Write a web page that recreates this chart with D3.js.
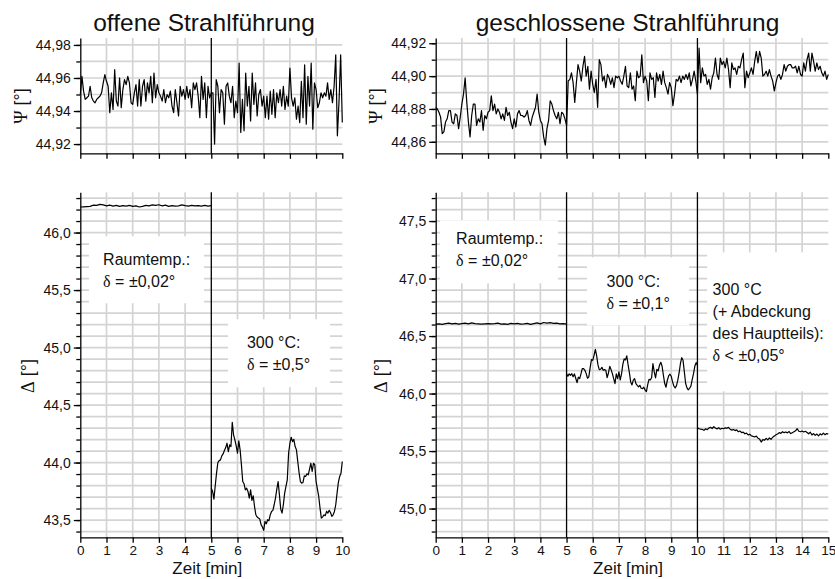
<!DOCTYPE html>
<html>
<head>
<meta charset="utf-8">
<script src="https://cdn.jsdelivr.net/npm/d3@7"></script>
<style>
  html, body { margin: 0; padding: 0; background: #fff; }
  svg { display: block; font-family: "Liberation Sans", Arial, Helvetica, sans-serif; }
</style>
</head>
<body>
<svg id="chart" width="835" height="579"></svg>
<script>
// ---------------- measured data ----------------
// Ψ samples every 1/16 min
const psiStep = 0.0625;

// Ψ, open beam path, 0–10 min
const psiOpen = [
  44.950, 44.961, 44.952, 44.947, 44.948, 44.949, 44.955, 44.948, 44.946, 44.945,
  44.947, 44.948, 44.949, 44.951, 44.957, 44.962, 44.958, 44.955, 44.939, 44.951,
  44.941, 44.965, 44.946, 44.943, 44.960, 44.942, 44.953, 44.959, 44.956, 44.961,
  44.957, 44.945, 44.944, 44.951, 44.956, 44.943, 44.959, 44.943, 44.955, 44.959,
  44.946, 44.957, 44.951, 44.961, 44.945, 44.963, 44.948, 44.956, 44.951, 44.949,
  44.946, 44.953, 44.945, 44.950, 44.948, 44.952, 44.943, 44.939, 44.953, 44.945,
  44.937, 44.955, 44.949, 44.953, 44.947, 44.955, 44.948, 44.953, 44.942, 44.957,
  44.953, 44.957, 44.949, 44.936, 44.961, 44.947, 44.957, 44.936, 44.955, 44.948,
  44.951,
  44.951, 44.920, 44.959, 44.955, 44.939, 44.953, 44.951, 44.932, 44.955,
  44.957, 44.949, 44.945, 44.955, 44.936, 44.946, 44.939, 44.969, 44.927, 44.947,
  44.928, 44.963, 44.943, 44.955, 44.934, 44.963, 44.944, 44.957, 44.937, 44.950,
  44.953, 44.943, 44.949, 44.936, 44.949, 44.935, 44.952, 44.938, 44.953, 44.936,
  44.951, 44.945, 44.953, 44.943, 44.955, 44.941, 44.949, 44.943, 44.966, 44.948,
  44.943, 44.948, 44.935, 44.943, 44.933, 44.958, 44.936, 44.968, 44.932, 44.961,
  44.943, 44.969, 44.929, 44.957, 44.953, 44.942, 44.945, 44.951, 44.948, 44.951,
  44.949, 44.957, 44.947, 44.953, 44.945, 44.955, 44.974, 44.925, 44.946, 44.974,
  44.933
];

// Ψ, closed beam path, 0–15 min
const psiClosed = [
  44.881, 44.880, 44.878, 44.875, 44.865, 44.866, 44.872, 44.874, 44.879, 44.879,
  44.872, 44.871, 44.877, 44.876, 44.868, 44.875, 44.883, 44.889, 44.899, 44.884,
  44.872, 44.863, 44.876, 44.883, 44.883, 44.870, 44.874, 44.872, 44.879, 44.867,
  44.876, 44.874, 44.878, 44.879, 44.888, 44.879, 44.883, 44.877, 44.880, 44.878,
  44.874, 44.877, 44.873, 44.881, 44.876, 44.878, 44.872, 44.868, 44.874, 44.869,
  44.877, 44.879, 44.876, 44.876, 44.875, 44.876, 44.879, 44.873, 44.870, 44.875,
  44.878, 44.881, 44.889, 44.878, 44.873, 44.871, 44.863, 44.858, 44.868, 44.873,
  44.885, 44.883, 44.879, 44.876, 44.874, 44.878, 44.871, 44.878, 44.877, 44.874,
  44.870,
  44.897, 44.898, 44.902, 44.896, 44.884, 44.896, 44.907, 44.903, 44.897, 44.906,
  44.912, 44.900, 44.906, 44.892, 44.903, 44.895, 44.890, 44.898, 44.881, 44.910,
  44.907, 44.897, 44.900, 44.893, 44.901, 44.899, 44.895, 44.899, 44.893, 44.900,
  44.899, 44.900, 44.897, 44.895, 44.900, 44.906, 44.894, 44.893, 44.902, 44.892,
  44.894, 44.885, 44.903, 44.899, 44.900, 44.913, 44.896, 44.900, 44.897, 44.885,
  44.902, 44.898, 44.899, 44.887, 44.902, 44.897, 44.901, 44.895, 44.903, 44.896,
  44.893, 44.889, 44.896, 44.893, 44.882, 44.889, 44.898, 44.897, 44.900, 44.896,
  44.900, 44.898, 44.901, 44.898, 44.902, 44.894, 44.898, 44.903, 44.897, 44.889,
  44.917, 44.896, 44.905, 44.900, 44.901, 44.895, 44.898, 44.892, 44.899, 44.902,
  44.911, 44.901, 44.898, 44.911, 44.907, 44.909, 44.905, 44.911, 44.904, 44.893,
  44.908, 44.904, 44.905, 44.901, 44.906, 44.905, 44.910, 44.914, 44.893, 44.903,
  44.899, 44.902, 44.905, 44.901, 44.909, 44.915, 44.908, 44.915, 44.911, 44.900,
  44.901, 44.903, 44.900, 44.904, 44.900, 44.897, 44.891, 44.896, 44.900, 44.901,
  44.898, 44.901, 44.907, 44.903, 44.906, 44.907, 44.907, 44.905, 44.905, 44.906,
  44.902, 44.906, 44.901, 44.900, 44.908, 44.903, 44.910, 44.914, 44.903, 44.914,
  44.909, 44.903, 44.908, 44.904, 44.906, 44.902, 44.900, 44.903, 44.898, 44.901
];

// Δ, open beam path: room temperature 0–5 min (every 1/8 min)
const deltaOpenRoomStep = 0.125;
const deltaOpenRoom = [
  46.222, 46.224, 46.226, 46.228, 46.238, 46.236, 46.245, 46.240, 46.232, 46.238,
  46.230, 46.236, 46.228, 46.234, 46.230, 46.236, 46.228, 46.232, 46.222, 46.228,
  46.236, 46.232, 46.240, 46.236, 46.242, 46.232, 46.238, 46.228, 46.234, 46.230,
  46.232, 46.240, 46.234, 46.230, 46.236, 46.232, 46.234, 46.230, 46.236, 46.230,
  46.234
];

// Δ, open beam path: 300 °C, 5–10 min (every 0.05 min)
const deltaHotStep = 0.05;
const deltaOpenHot = [
  43.777, 43.749, 43.682, 43.798, 43.908, 44.000, 44.017, 44.023, 44.058, 44.075,
  44.104, 44.130, 44.168, 44.095, 44.153, 44.139, 44.350, 44.240, 44.197, 44.145,
  44.081, 44.188, 44.110, 43.980, 43.835, 43.815, 43.763, 43.777, 43.749, 43.691,
  43.763, 43.671, 43.711, 43.618, 43.546, 43.526, 43.517, 43.509, 43.460, 43.440,
  43.410, 43.488, 43.468, 43.503, 43.494, 43.546, 43.575, 43.584, 43.633, 43.691,
  43.769, 43.835, 43.720, 43.595, 43.561, 43.633, 43.734, 43.792, 43.850, 44.081,
  44.168, 44.220, 44.182, 44.202, 44.139, 44.110, 44.009, 43.913, 43.835, 43.821,
  43.827, 43.884, 43.879, 43.902, 43.893, 43.942, 43.994, 43.922, 43.994, 43.980,
  43.835, 43.769, 43.705, 43.604, 43.517, 43.526, 43.546, 43.538, 43.575, 43.561,
  43.584, 43.566, 43.532, 43.546, 43.575, 43.633, 43.734, 43.827, 43.879, 43.908,
  44.009
];

// Δ, closed beam path: room temperature 0–5 min (every 1/8 min)
const deltaClosedRoom = [
  46.604, 46.606, 46.602, 46.608, 46.612, 46.606, 46.610, 46.604, 46.608, 46.612,
  46.606, 46.614, 46.608, 46.606, 46.604, 46.606, 46.608, 46.606, 46.608, 46.612,
  46.604, 46.606, 46.602, 46.610, 46.606, 46.610, 46.604, 46.606, 46.610, 46.602,
  46.608, 46.614, 46.606, 46.618, 46.612, 46.616, 46.610, 46.612, 46.606, 46.608,
  46.604
];

// Δ, closed beam path: 300 °C, 5–10 min (every 0.05 min)
const deltaClosedHot = [
  46.173, 46.150, 46.171, 46.159, 46.173, 46.147, 46.171, 46.133, 46.095, 46.142,
  46.130, 46.171, 46.217, 46.217, 46.202, 46.173, 46.133, 46.145, 46.223, 46.295,
  46.289, 46.332, 46.384, 46.327, 46.249, 46.208, 46.211, 46.228, 46.202, 46.208,
  46.202, 46.139, 46.179, 46.237, 46.208, 46.173, 46.130, 46.087, 46.171, 46.130,
  46.188, 46.118, 46.171, 46.254, 46.301, 46.292, 46.327, 46.251, 46.182, 46.101,
  46.075, 46.116, 46.130, 46.087, 46.072, 46.058, 46.072, 46.046, 46.043, 46.055,
  46.032, 46.017, 46.078, 46.124, 46.118, 46.139, 46.260, 46.188, 46.136, 46.211,
  46.197, 46.246, 46.272, 46.237, 46.159, 46.087, 46.055, 46.116, 46.153, 46.168,
  46.150, 46.101, 46.066, 46.049, 46.069, 46.116, 46.179, 46.260, 46.312, 46.289,
  46.188, 46.087, 46.049, 46.032, 46.046, 46.064, 46.121, 46.173, 46.237, 46.269,
  46.246
];

// Δ, closed beam path: 300 °C with covered main part, 10–15 min (every 1/16 min)
const deltaCoveredStep = 0.0625;
const deltaClosedCovered = [
  45.702, 45.694, 45.690, 45.688, 45.680, 45.694, 45.686, 45.700, 45.706, 45.696,
  45.712, 45.700, 45.692, 45.704, 45.690, 45.698, 45.694, 45.702, 45.698, 45.706,
  45.690, 45.682, 45.688, 45.678, 45.684, 45.668, 45.674, 45.660, 45.664, 45.650,
  45.656, 45.640, 45.646, 45.632, 45.628, 45.622, 45.630, 45.612, 45.604, 45.578,
  45.600, 45.594, 45.610, 45.598, 45.614, 45.602, 45.620, 45.630, 45.642, 45.648,
  45.660, 45.654, 45.668, 45.660, 45.666, 45.658, 45.670, 45.652, 45.660, 45.668,
  45.676, 45.694, 45.672, 45.668, 45.674, 45.666, 45.672, 45.662, 45.650, 45.664,
  45.640, 45.652, 45.636, 45.648, 45.632, 45.650, 45.640, 45.656, 45.642, 45.652,
  45.648
];

// axis ticks
const psiOpenTicks     = [44.92, 44.94, 44.96, 44.98];
const psiClosedTicks   = [44.86, 44.88, 44.90, 44.92];
const deltaOpenTicks   = [43.5, 44.0, 44.5, 45.0, 45.5, 46.0];
const deltaClosedTicks = [45.0, 45.5, 46.0, 46.5, 47.0, 47.5];
const timeTicksOpen    = [0, 1, 2, 3, 4, 5, 6, 7, 8, 9, 10];
const timeTicksClosed  = [0, 1, 2, 3, 4, 5, 6, 7, 8, 9, 10, 11, 12, 13, 14, 15];

// phase changes (min)
const phaseBoundsOpen   = [5];
const phaseBoundsClosed = [5, 10];

// texts
const titleOpen   = "offene Strahlführung";
const titleClosed = "geschlossene Strahlführung";
const xTitle      = "Zeit [min]";
const psiTitle    = "Ψ [°]";
const deltaTitle  = "Δ [°]";
const noteRoomOpen     = ["Raumtemp.:", "δ = ±0,02°"];
const noteHotOpen      = ["300 °C:", "δ = ±0,5°"];
const noteRoomClosed   = ["Raumtemp.:", "δ = ±0,02°"];
const noteHotClosed    = ["300 °C:", "δ = ±0,1°"];
const noteCoveredClosed = ["300 °C", "(+ Abdeckung", "des Hauptteils):", "δ < ±0,05°"];

// ---------------- drawing ----------------
const svg = d3.select("#chart");
const de = d3.formatLocale({ decimal: ",", thousands: ".", grouping: [3], currency: ["", " €"] });

const GRID = "#d4d4d4";
const SANS = "'Liberation Sans', Arial, Helvetica, sans-serif";
const SERIF = "'Liberation Serif', 'Times New Roman', serif";

const colRange = { open: [80.3, 342.3], closed: [435.7, 828.3] };
const rowRange = { psi: [153.3, 38], delta: [537.3, 192.3] };

const series = (start, step, values) => values.map((v, i) => [start + i * step, v]);

// write a string, setting Greek letters in a serif face
function rich(sel, str) {
  str.split(/([ΨΔδ])/).filter(s => s.length).forEach(part => {
    const t = sel.append("tspan").text(part);
    if (/[ΨΔδ]/.test(part)) t.attr("font-family", SERIF);
  });
}

function stepValues(d0, d1, step, digits) {
  const lo = Math.ceil(d0 / step - 1e-6), hi = Math.floor(d1 / step + 1e-6);
  return d3.range(lo, hi + 1).map(k => +(k * step).toFixed(digits));
}

const panels = [
  { col: "open", row: "psi", xMax: 10, yDomain: [44.9144, 44.9842], ticks: psiOpenTicks, fmt: ".2f",
    minor: 0.01, digits: 2, times: timeTicksOpen, bounds: phaseBoundsOpen, labelsX: false,
    segments: [series(0, psiStep, psiOpen)], yTitle: psiTitle, yTitlePos: [27, 106], notes: [] },
  { col: "closed", row: "psi", xMax: 15, yDomain: [44.853, 44.9232], ticks: psiClosedTicks, fmt: ".2f",
    minor: 0.01, digits: 2, times: timeTicksClosed, bounds: phaseBoundsClosed, labelsX: false,
    segments: [series(0, psiStep, psiClosed)], yTitle: psiTitle, yTitlePos: [382, 106], notes: [] },
  { col: "open", row: "delta", xMax: 10, yDomain: [43.35, 46.35], ticks: deltaOpenTicks, fmt: ".1f",
    minor: 0.1, digits: 1, times: timeTicksOpen, bounds: phaseBoundsOpen, labelsX: true,
    segments: [series(0, deltaOpenRoomStep, deltaOpenRoom), series(5, deltaHotStep, deltaOpenHot)],
    yTitle: deltaTitle, yTitlePos: [34, 376],
    notes: [
      { lines: noteRoomOpen, box: [0.33, 4.72, 45.385, 45.968], at: [0.87, 45.716] },
      { lines: noteHotOpen,  box: [5.64, 9.53, 44.655, 45.246], at: [6.36, 44.994] }
    ] },
  { col: "closed", row: "delta", xMax: 15, yDomain: [44.75, 47.75], ticks: deltaClosedTicks, fmt: ".1f",
    minor: 0.1, digits: 1, times: timeTicksClosed, bounds: phaseBoundsClosed, labelsX: true,
    segments: [series(0, deltaOpenRoomStep, deltaClosedRoom), series(5, deltaHotStep, deltaClosedHot),
               series(10, deltaCoveredStep, deltaClosedCovered)],
    yTitle: deltaTitle, yTitlePos: [387, 376],
    notes: [
      { lines: noteRoomClosed,    box: [0.16, 4.67, 46.958, 47.506],  at: [0.78, 47.297] },
      { lines: noteHotClosed,     box: [5.78, 9.68, 46.593, 47.184],  at: [6.53, 46.926] },
      { lines: noteCoveredClosed, box: [10.37, 15.3, 46.019, 47.228], at: [10.58, 46.854] }
    ] }
];

const LINE_H = 21.8;

panels.forEach(p => {
  const x = d3.scaleLinear().domain([0, p.xMax]).range(colRange[p.col]);
  const y = d3.scaleLinear().domain(p.yDomain).range(rowRange[p.row]);
  const [x0, x1] = x.range();
  const [yb, yt] = y.range();
  const g = svg.append("g");

  const minorVals = stepValues(p.yDomain[0], p.yDomain[1], p.minor, p.digits);

  // grid
  const grid = g.append("g").attr("stroke", GRID).attr("stroke-width", 1.7);
  grid.selectAll("line.h").data(minorVals).join("line")
    .attr("x1", x0).attr("x2", x1).attr("y1", d => y(d)).attr("y2", d => y(d));
  grid.selectAll("line.v").data(p.times.filter(t => t > 0 && t < p.xMax && !p.bounds.includes(t))).join("line")
    .attr("x1", d => x(d)).attr("x2", d => x(d)).attr("y1", yb).attr("y2", yt);

  // white label boxes
  p.notes.forEach(n => {
    g.append("rect")
      .attr("x", x(n.box[0])).attr("y", y(n.box[3]))
      .attr("width", x(n.box[1]) - x(n.box[0])).attr("height", y(n.box[2]) - y(n.box[3]))
      .attr("fill", "#fff");
  });

  // phase separators
  g.selectAll("line.sep").data(p.bounds).join("line")
    .attr("x1", d => x(d)).attr("x2", d => x(d)).attr("y1", yb).attr("y2", yt)
    .attr("stroke", "#000").attr("stroke-width", 1.3);

  // measurement traces
  const line = d3.line().x(d => x(d[0])).y(d => y(d[1]));
  g.selectAll("path.trace").data(p.segments).join("path")
    .attr("d", line).attr("fill", "none").attr("stroke", "#000")
    .attr("stroke-width", 1.2).attr("stroke-linejoin", "round");

  // y axis: minor then major ticks
  const yMinor = g.append("g").attr("transform", `translate(${x0},0)`)
    .call(d3.axisLeft(y).tickValues(minorVals).tickSize(4).tickSizeOuter(0).tickFormat(""));
  yMinor.select(".domain").remove();
  const yAx = g.append("g").attr("transform", `translate(${x0},0)`)
    .call(d3.axisLeft(y).tickValues(p.ticks).tickSize(6.5).tickSizeOuter(0).tickPadding(3)
      .tickFormat(de.format(p.fmt)));

  // x axis
  const xAx = g.append("g").attr("transform", `translate(0,${yb})`)
    .call(d3.axisBottom(x).tickValues(p.times).tickSize(5.5).tickSizeOuter(0).tickPadding(3)
      .tickFormat(p.labelsX ? d3.format("d") : ""));

  [yMinor, yAx, xAx].forEach(a => {
    a.selectAll("path, line").attr("stroke", "#000").attr("stroke-width", 1.3);
    a.selectAll("text").attr("fill", "#111").attr("font-size", 13.5).attr("font-family", SANS);
  });
  yAx.selectAll("text").attr("font-size", 14);

  // axis titles
  const yt_ = svg.append("text")
    .attr("transform", `translate(${p.yTitlePos[0]},${p.yTitlePos[1]}) rotate(-90)`)
    .attr("text-anchor", "middle").attr("font-size", 18).attr("fill", "#111");
  rich(yt_, p.yTitle);

  if (p.labelsX) {
    svg.append("text").attr("x", (x0 + x1) / 2 - 4).attr("y", 574)
      .attr("text-anchor", "middle").attr("font-size", 17).attr("fill", "#111").text(xTitle);
  }

  // annotations
  p.notes.forEach(n => {
    const tx = x(n.at[0]), ty = y(n.at[1]);
    n.lines.forEach((s, i) => {
      const t = svg.append("text").attr("x", tx).attr("y", ty + i * LINE_H)
        .attr("font-size", 16).attr("fill", "#111");
      rich(t, s);
    });
  });
});

// panel titles
svg.append("text").attr("x", 204).attr("y", 31).attr("text-anchor", "middle")
  .attr("font-size", 24.5).attr("fill", "#111").text(titleOpen);
svg.append("text").attr("x", 627.5).attr("y", 31).attr("text-anchor", "middle")
  .attr("font-size", 24.5).attr("fill", "#111").text(titleClosed);
</script>
</body>
</html>
